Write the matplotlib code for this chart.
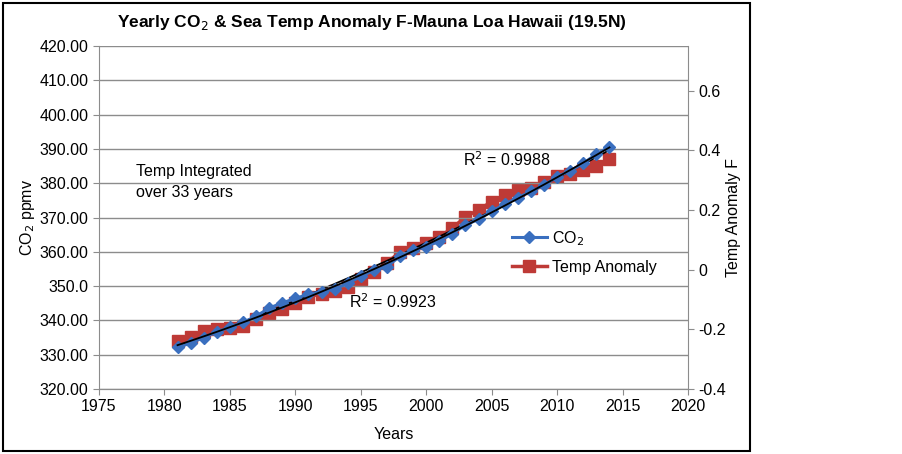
import matplotlib
matplotlib.use('Agg')
import matplotlib.pyplot as plt
from matplotlib.patches import Rectangle
import numpy as np

plt.rcParams['font.family'] = ['Liberation Sans', 'DejaVu Sans']

years = list(range(1981, 2015))
co2 = [332.1, 333.4, 335.0, 336.6, 338.1, 339.4, 341.2, 343.6, 345.1, 346.4,
       347.6, 348.4, 349.1, 350.8, 352.8, 354.6, 355.7, 358.7, 360.4, 361.5,
       363.1, 365.3, 367.8, 369.5, 371.8, 373.9, 375.8, 377.6, 379.4, 381.9,
       383.6, 385.8, 388.5, 390.6]
temp = [-0.239, -0.226, -0.205, -0.199, -0.195, -0.189, -0.165, -0.145, -0.132, -0.111,
        -0.091, -0.081, -0.071, -0.058, -0.031, -0.007, 0.023, 0.060, 0.073, 0.090,
        0.110, 0.140, 0.177, 0.201, 0.228, 0.251, 0.268, 0.274, 0.295, 0.315,
        0.321, 0.335, 0.348, 0.372]

co2_ticks = [320, 330, 340, 350, 360, 370, 380, 390, 400, 410, 420]
co2_labels = ['320.00', '330.00', '340.00', '350.0', '360.00', '370.00',
              '380.00', '390.00', '400.00', '410.00', '420.00']
temp_ticks = [-0.4, -0.2, 0, 0.2, 0.4, 0.6]
temp_labels = ['-0.4', '-0.2', '0', '0.2', '0.4', '0.6']
year_ticks = list(range(1975, 2021, 5))

blue = '#3a6fbf'
red = '#be3a36'
gray = '#8c8c8c'

fig = plt.figure(figsize=(9.03, 4.54), dpi=100)
fig.patches.append(Rectangle((3 / 903, 3 / 454), 747 / 903, 448 / 454,
                             transform=fig.transFigure, fill=False,
                             edgecolor='black', linewidth=1.5))

ax = fig.add_axes([99 / 903, 1 - 389 / 454, 589 / 903, 343 / 454])
ax2 = ax.twinx()

x = np.array(years)
# Excel-style polynomial trendlines
fit1 = np.polyfit(x, co2, 2)
fit2 = np.polyfit(x, temp, 2)

l1, = ax.plot(years, co2, color=blue, marker='D', markersize=6, linewidth=2.2,
              label='CO$_2$', zorder=3)
l2, = ax2.plot(years, temp, color=red, marker='s', markersize=8.5, linewidth=2.5,
               label='Temp Anomaly', zorder=2)
ax.plot(x, np.polyval(fit1, x), color='black', linewidth=1.3, zorder=4)
ax2.plot(x, np.polyval(fit2, x), color='black', linewidth=1.3, zorder=4)

ax.set_zorder(ax2.get_zorder() + 1)
ax.patch.set_visible(False)

ax.set_xlim(1975, 2020)
ax.set_ylim(320, 420)
ax2.set_ylim(-0.4, 0.75)
ax.set_xticks(year_ticks)
ax.set_yticks(co2_ticks)
ax.set_yticklabels(co2_labels)
ax2.set_yticks(temp_ticks)
ax2.set_yticklabels(temp_labels)

ax.grid(axis='y', color=gray, linewidth=1)
ax.set_axisbelow(True)
for a in (ax, ax2):
    for s in a.spines.values():
        s.set_color(gray)
    a.spines['top'].set_visible(False)
    a.tick_params(colors=gray, labelcolor='black', labelsize=11.5, length=4)
ax2.spines['left'].set_visible(False)
ax.spines['right'].set_visible(False)

ax.set_xlabel('Years', fontsize=11.5, labelpad=9)
ax.set_ylabel('CO$_2$ ppmv', fontsize=11.5, labelpad=2)
ax2.set_ylabel('Temp Anomaly F', fontsize=11.5, labelpad=0)
fig.text(372 / 903, 1 - 22 / 454,
         'Yearly CO$_2$ & Sea Temp Anomaly F-Mauna Loa Hawaii (19.5N)',
         fontsize=12.5, fontweight='bold', ha='center', va='center')

ax.text(1977.8, 380.4, 'Temp Integrated\nover 33 years', fontsize=11.5,
        va='center', linespacing=1.5)
ax.text(2002.8, 386.8, 'R$^2$ = 0.9988', fontsize=11.5, va='center')
ax.text(1994.1, 345.4, 'R$^2$ = 0.9923', fontsize=11.5, va='center')

ax.legend([l1, l2], ['CO$_2$', 'Temp Anomaly'], loc='upper left',
          bbox_to_anchor=(0.69, 0.485), frameon=False, fontsize=11.5,
          handlelength=2.2, handletextpad=0.3, labelspacing=0.75,
          borderaxespad=0)

fig.savefig('out.png', dpi=100)
